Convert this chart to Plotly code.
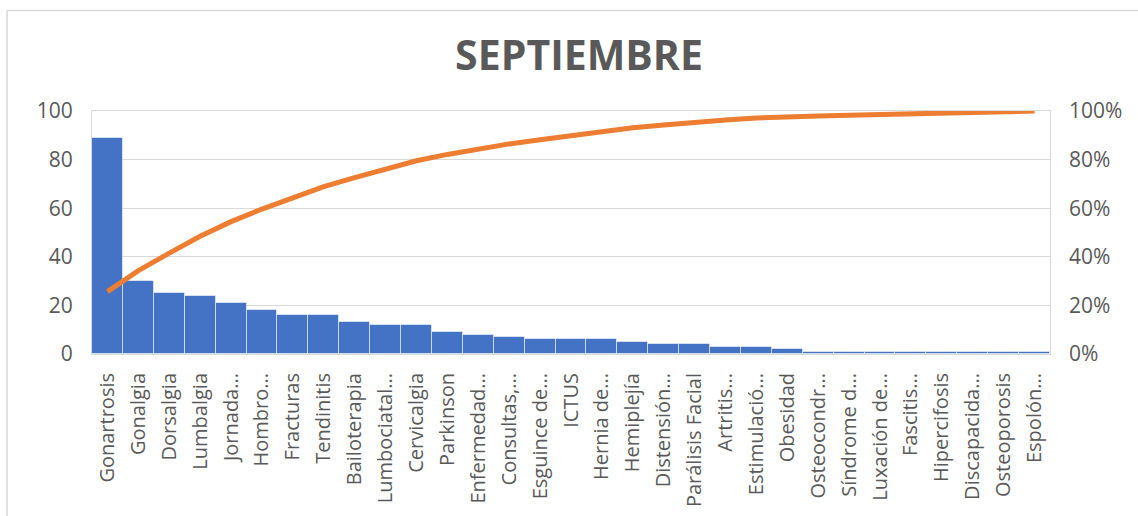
import numpy as np
import plotly.graph_objects as go

categories = ["Gonartrosis", "Gonalgia", "Dorsalgia", "Lumbalgia", "Jornada...", "Hombro...",
              "Fracturas", "Tendinitis", "Bailoterapia", "Lumbociatal...", "Cervicalgia",
              "Parkinson", "Enfermedad...", "Consultas,...", "Esguince de...", "ICTUS",
              "Hernia de...", "Hemiplejía", "Distensión...", "Parálisis Facial", "Artritis...",
              "Estimulació...", "Obesidad", "Osteocondr...", "Síndrome d...", "Luxación de...",
              "Fascitis...", "Hipercifosis", "Discapacida...", "Osteoporosis", "Espolón..."]
values = [89, 30, 25, 24, 21, 18, 16, 16, 13, 12, 12, 9, 8, 7, 6, 6,
          6, 5, 4, 4, 3, 3, 2, 1, 1, 1, 1, 1, 1, 1, 1]
left_ticks = [0, 20, 40, 60, 80, 100]
right_ticks = [0, 0.2, 0.4, 0.6, 0.8, 1.0]

cum_pct = np.cumsum(values) / np.sum(values)

font_family = "Open Sans, Segoe UI, sans-serif"
gray = "#595959"
grid = "#d9d9d9"

W, H = 1138, 516
L, R, T, B = 92, 88, 111, 162
pw, ph = W - L - R, H - T - B


def px(x):
    return (x - L) / pw


def py(y):
    return (H - B - y) / ph


fig = go.Figure()
fig.add_trace(go.Bar(
    x=categories, y=values,
    marker=dict(color="#4472C4", line=dict(color="rgba(255,255,255,0.55)", width=1)),
    yaxis="y", showlegend=False, hoverinfo="x+y"))
fig.add_trace(go.Scatter(
    x=categories, y=cum_pct, mode="lines", line=dict(color="#ED7D31", width=5),
    yaxis="y2", showlegend=False))

fig.update_layout(
    width=W, height=H,
    margin=dict(l=L, r=R, t=T, b=B, autoexpand=False),
    paper_bgcolor="white", plot_bgcolor="white",
    bargap=0,
    title=dict(text="<b>SEPTIEMBRE</b>", x=579 / W, xanchor="center", xref="container",
               y=1 - 56 / H, yanchor="middle",
               font=dict(family=font_family, size=41, color=gray)),
    font=dict(family=font_family, color=gray),
    xaxis=dict(tickangle=-90, tickfont=dict(size=20, color=gray), showline=True, mirror=True,
               linecolor=grid, linewidth=1, ticks="", showgrid=False, automargin=False,
               ticklabelstandoff=10),
    yaxis=dict(range=[0, 100], tickvals=left_ticks, tickfont=dict(size=21, color=gray),
               showgrid=True, gridcolor=grid, gridwidth=1, zeroline=False, automargin=False,
               showline=True, mirror=True, linecolor=grid, ticks="", ticklabelstandoff=14),
    yaxis2=dict(range=[0, 1], tickvals=right_ticks, tickformat=".0%", overlaying="y", side="right",
                tickfont=dict(size=21, color=gray), showgrid=False, zeroline=False, ticks="",
                automargin=False, ticklabelstandoff=18),
    shapes=[
        dict(type="line", xref="paper", yref="paper", x0=px(7), x1=px(W + 5), y0=py(10.5), y1=py(10.5),
             line=dict(color=grid, width=1.5)),
        dict(type="line", xref="paper", yref="paper", x0=px(7), x1=px(7), y0=py(10.5), y1=py(H + 5),
             line=dict(color=grid, width=1.5)),
    ],
)

fig.write_html("out.html", post_script="document.body.style.margin='0';",
               config={"displayModeBar": False})
